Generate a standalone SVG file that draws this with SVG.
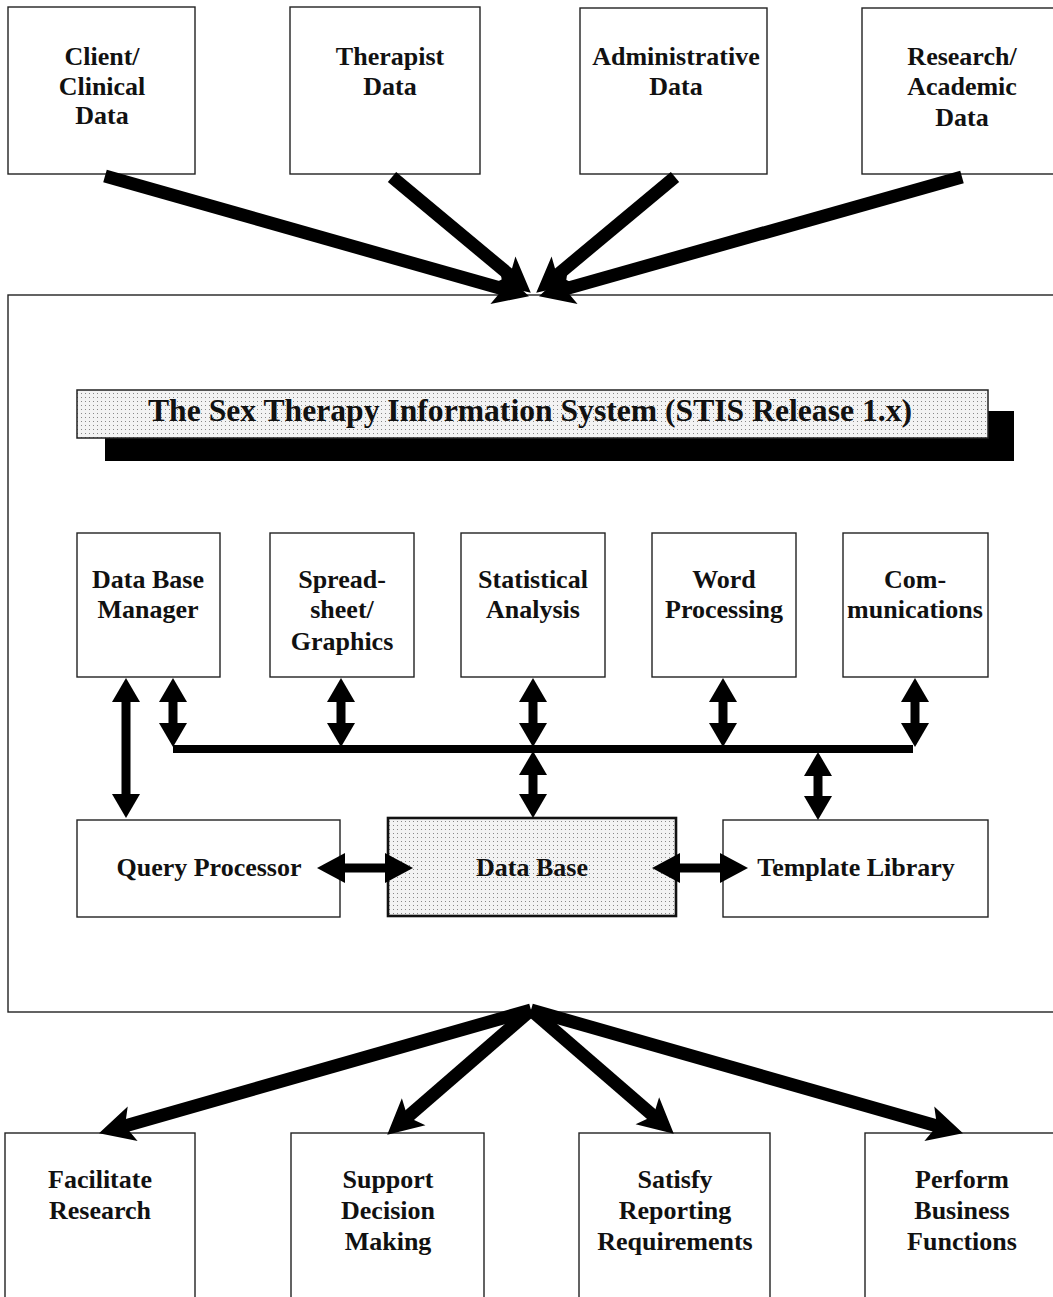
<svg xmlns="http://www.w3.org/2000/svg" width="1053" height="1297" viewBox="0 0 1053 1297">
<style>
.box{fill:#fff;stroke:#222;stroke-width:1.4}
.lbl{font-family:"Liberation Serif","Times New Roman",serif;font-weight:bold;font-size:26px;fill:#111;text-anchor:middle}
.thick{stroke:#000;stroke-width:13;fill:none;marker-end:url(#big)}
.dbl{stroke:#000;stroke-width:9;fill:none;marker-start:url(#dh);marker-end:url(#dh)}
.hdbl{stroke:#000;stroke-width:9;fill:none;marker-start:url(#hh);marker-end:url(#hh)}
</style>
<defs>
<pattern id="dots" patternUnits="userSpaceOnUse" width="4" height="4">
<rect width="4" height="4" fill="#f3f3f3"/>
<rect x="1" y="1" width="1" height="1" fill="#888"/>
</pattern>
<marker id="big" markerUnits="userSpaceOnUse" markerWidth="40" markerHeight="40" refX="19" refY="0" orient="auto" overflow="visible">
<path d="M35,0 L0,-18 L8,0 L0,18 z" fill="#000"/>
</marker>
<marker id="dh" markerUnits="userSpaceOnUse" markerWidth="30" markerHeight="30" refX="12" refY="0" orient="auto-start-reverse" overflow="visible">
<path d="M24,0 L0,-14 L0,14 z" fill="#000"/>
</marker>
<marker id="hh" markerUnits="userSpaceOnUse" markerWidth="30" markerHeight="30" refX="14" refY="0" orient="auto-start-reverse" overflow="visible">
<path d="M28,0 L0,-15 L0,15 z" fill="#000"/>
</marker>
</defs>
<rect width="1053" height="1297" fill="#fff"/>

<g id="system">
<rect class="box" x="8" y="295" width="1060" height="717"/>
</g>

<g id="title">
<rect x="105" y="411" width="909" height="50" fill="#000"/>
<rect x="77" y="390" width="911" height="48" fill="url(#dots)" stroke="#222" stroke-width="1.5"/>
<text x="530" y="421" font-family="'Liberation Serif','Times New Roman',serif" font-weight="bold" font-size="31" fill="#111" text-anchor="middle" textLength="764" lengthAdjust="spacingAndGlyphs">The Sex Therapy Information System (STIS Release 1.x)</text>
</g>

<g id="client-data">
<rect class="box" x="8" y="7" width="187" height="167"/>
<text class="lbl" x="102" y="65">Client/</text>
<text class="lbl" x="102" y="95">Clinical</text>
<text class="lbl" x="102" y="124">Data</text>
</g>
<g id="therapist-data">
<rect class="box" x="290" y="7" width="190" height="167"/>
<text class="lbl" x="390" y="65">Therapist</text>
<text class="lbl" x="390" y="95">Data</text>
</g>
<g id="administrative-data">
<rect class="box" x="580" y="8" width="187" height="166"/>
<text class="lbl" x="676" y="65">Administrative</text>
<text class="lbl" x="676" y="95">Data</text>
</g>
<g id="research-data">
<rect class="box" x="862" y="8" width="200" height="166"/>
<text class="lbl" x="962" y="65">Research/</text>
<text class="lbl" x="962" y="95">Academic</text>
<text class="lbl" x="962" y="126">Data</text>
</g>

<g id="dbm">
<rect class="box" x="77" y="533" width="143" height="144"/>
<text class="lbl" x="148" y="588">Data Base</text>
<text class="lbl" x="148" y="618">Manager</text>
</g>
<g id="spreadsheet">
<rect class="box" x="270" y="533" width="144" height="144"/>
<text class="lbl" x="342" y="588">Spread-</text>
<text class="lbl" x="342" y="618">sheet/</text>
<text class="lbl" x="342" y="650">Graphics</text>
</g>
<g id="statistical">
<rect class="box" x="461" y="533" width="144" height="144"/>
<text class="lbl" x="533" y="588">Statistical</text>
<text class="lbl" x="533" y="618">Analysis</text>
</g>
<g id="word">
<rect class="box" x="652" y="533" width="144" height="144"/>
<text class="lbl" x="724" y="588">Word</text>
<text class="lbl" x="724" y="618">Processing</text>
</g>
<g id="comm">
<rect class="box" x="843" y="533" width="145" height="144"/>
<text class="lbl" x="915" y="588">Com-</text>
<text class="lbl" x="915" y="618">munications</text>
</g>

<g id="query">
<rect class="box" x="77" y="820" width="263" height="97"/>
<text class="lbl" x="209" y="876">Query Processor</text>
</g>
<g id="database">
<rect x="388" y="818" width="288" height="98" fill="url(#dots)" stroke="#111" stroke-width="2.6"/>
<text class="lbl" x="532" y="876">Data Base</text>
</g>
<g id="template">
<rect class="box" x="723" y="820" width="265" height="97"/>
<text class="lbl" x="856" y="876">Template Library</text>
</g>

<g id="facilitate">
<rect class="box" x="5" y="1133" width="190" height="200"/>
<text class="lbl" x="100" y="1188">Facilitate</text>
<text class="lbl" x="100" y="1219">Research</text>
</g>
<g id="support">
<rect class="box" x="291" y="1133" width="193" height="200"/>
<text class="lbl" x="388" y="1188">Support</text>
<text class="lbl" x="388" y="1219">Decision</text>
<text class="lbl" x="388" y="1250">Making</text>
</g>
<g id="satisfy">
<rect class="box" x="579" y="1133" width="191" height="200"/>
<text class="lbl" x="675" y="1188">Satisfy</text>
<text class="lbl" x="675" y="1219">Reporting</text>
<text class="lbl" x="675" y="1250">Requirements</text>
</g>
<g id="perform">
<rect class="box" x="865" y="1133" width="200" height="200"/>
<text class="lbl" x="962" y="1188">Perform</text>
<text class="lbl" x="962" y="1219">Business</text>
<text class="lbl" x="962" y="1250">Functions</text>
</g>

<g id="connectors">
<line class="thick" x1="105" y1="176" x2="513.6" y2="291.9"/>
<line class="thick" x1="392" y1="177" x2="518.5" y2="282.4"/>
<line class="thick" x1="675" y1="177" x2="548.5" y2="282.4"/>
<line class="thick" x1="962" y1="177" x2="554.4" y2="291.9"/>

<line class="thick" x1="531" y1="1010" x2="114.4" y2="1128.9"/>
<line class="thick" x1="531" y1="1010" x2="399.3" y2="1124.2"/>
<line class="thick" x1="531" y1="1010" x2="661.7" y2="1123.2"/>
<line class="thick" x1="531" y1="1010" x2="947.6" y2="1128.9"/>

<line x1="173" y1="749" x2="913" y2="749" stroke="#000" stroke-width="8"/>

<line class="dbl" x1="126" y1="690" x2="126" y2="806"/>
<line class="dbl" x1="173" y1="690" x2="173" y2="735"/>
<line class="dbl" x1="341" y1="690" x2="341" y2="735"/>
<line class="dbl" x1="533" y1="690" x2="533" y2="735"/>
<line class="dbl" x1="723" y1="690" x2="723" y2="735"/>
<line class="dbl" x1="915" y1="690" x2="915" y2="735"/>
<line class="dbl" x1="533" y1="763" x2="533" y2="806"/>
<line class="dbl" x1="818" y1="764" x2="818" y2="808"/>

<line class="hdbl" x1="331" y1="868" x2="399" y2="868"/>
<line class="hdbl" x1="666" y1="868" x2="734" y2="868"/>
</g>
</svg>
